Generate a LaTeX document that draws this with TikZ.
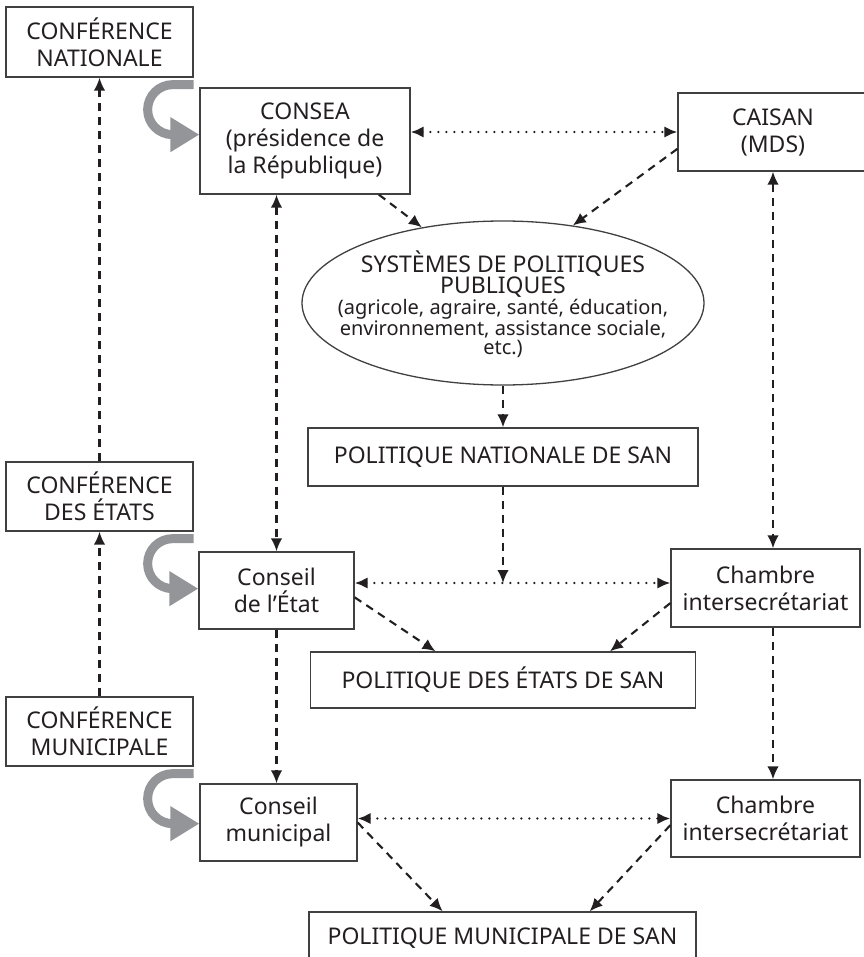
\documentclass[tikz,border=0pt]{standalone}
\usepackage{fontspec}
\setmainfont{Noto Sans}
\usetikzlibrary{arrows.meta,calc,shapes.geometric}
\definecolor{arrowgray}{HTML}{939598}
\definecolor{boxline}{HTML}{404040}
\definecolor{ink}{HTML}{231F20}
\begin{document}
\begin{tikzpicture}[x=1pt,y=1pt,
  >={Latex[length=13pt,width=11.5pt]},
  box/.style={draw=boxline,line width=1.3pt,inner sep=0pt,align=center,text=ink,
    font=\fontsize{23}{27}\selectfont},
  ellnode/.style={draw=boxline,line width=1.3pt,ellipse,inner sep=0pt,
    minimum width=402pt,minimum height=164pt},
  dashline/.style={draw=ink,line width=2.1pt,dash pattern=on 8pt off 6pt},
  dotline/.style={draw=ink,line width=2.6pt,line cap=round,dash pattern=on 0pt off 8pt},
  grayarrow/.style={draw=arrowgray,line width=9pt,-{Triangle[length=29pt,width=33pt,fill=arrowgray]}}
]
\useasboundingbox (0,0) rectangle (863,-957);

% left column
\node[box,minimum width=187pt,minimum height=70pt] (confnat) at (99.5,-42) {CONFÉRENCE\\NATIONALE};
\node[box,minimum width=187pt,minimum height=69pt] (confetats) at (99.5,-496.5) {CONFÉRENCE\\DES ÉTATS};
\node[box,minimum width=187pt,minimum height=69pt] (confmun) at (99.5,-731.5) {CONFÉRENCE\\MUNICIPALE};

% second column
\node[box,minimum width=210pt,minimum height=106pt] (consea) at (305,-141) {CONSEA\\(présidence de\\la République)};
\node[box,minimum width=155pt,minimum height=77pt] (conseiletat) at (276.5,-590.5) {Conseil\\de l’État};
\node[box,minimum width=157pt,minimum height=77pt] (conseilmun) at (278.5,-822.5) {Conseil\\municipal};

% right column
\node[box,minimum width=190pt,minimum height=78pt] (caisan) at (773,-132) {CAISAN\\(MDS)};
\node[box,minimum width=189pt,minimum height=78pt] (chambre1) at (765.5,-588) {Chambre\\intersecrétariat};
\node[box,minimum width=189pt,minimum height=77pt] (chambre2) at (765.5,-818.5) {Chambre\\intersecrétariat};

% central column
\node[ellnode] (ell) at (503,-303) {};
\node[align=center,text=ink,inner sep=0pt] (elltext) at (503,-304)
  {\fontsize{23}{22}\selectfont SYSTÈMES DE POLITIQUES\\
   \fontsize{23}{22}\selectfont PUBLIQUES\\
   \fontsize{20}{20}\selectfont (agricole, agraire, santé, éducation,\\
   \fontsize{20}{20}\selectfont environnement, assistance sociale,\\[1.5pt]
   \fontsize{20}{20}\selectfont etc.)};
\node[box,minimum width=390pt,minimum height=58pt] (polnat) at (503,-457) {POLITIQUE NATIONALE DE SAN};
\node[box,minimum width=385pt,minimum height=56pt] (poletats) at (503,-680) {POLITIQUE DES ÉTATS DE SAN};
\node[box,minimum width=387pt,minimum height=52pt] (polmun) at (502.5,-938) {POLITIQUE MUNICIPALE DE SAN};

\coordinate (m1) at (503,-583);

% dashed vertical connectors
\draw[dashline,->] (confetats.north) -- (confnat.south);
\draw[dashline,->] (confmun.north) -- (confetats.south);
\draw[dashline,<->] (conseiletat.north |- consea.south) -- (conseiletat.north);
\draw[dashline,->] (conseiletat.south) -- (conseiletat.south |- conseilmun.north);
\draw[dashline,<->] (caisan.south) -- (caisan.south |- chambre1.north);
\draw[dashline,->] (caisan.south |- chambre1.south) -- (caisan.south |- chambre2.north);
\draw[dashline,->] (ell.south) -- (polnat.north);
\draw[dashline,->] (polnat.south) -- (m1);

% dashed diagonals
\draw[dashline,->] (consea.-36.4) -- (ell.137);
\draw[dashline,->] (caisan.190.7) -- (ell.48);
\draw[dashline,->] (conseiletat.-5) -- (poletats.157.6);
\draw[dashline,->] (chambre1.189) -- (poletats.15.1);
\draw[dashline,->] (conseilmun.east) -- (polmun.156.7);
\draw[dashline,->] (chambre2.184) -- (polmun.17.9);

% dotted horizontals
\draw[dotline,<->] (consea.east |- caisan.west) -- (caisan.west);
\draw[dotline,<->] (conseiletat.east |- m1) -- (chambre1.west |- m1);
\draw[dotline,<->] (conseilmun.east |- chambre2.west) -- (chambre2.west);

% gray curved arrows
\draw[grayarrow] ($(confnat.south east)+(0,-7)$) -- ++(-21,0)
  arc[start angle=90,end angle=270,radius=25] coordinate (g1) -- (g1 -| consea.west);
\draw[grayarrow] ($(confetats.south east)+(0,-7)$) -- ++(-21,0)
  arc[start angle=90,end angle=270,radius=25] coordinate (g2) -- (g2 -| conseiletat.west);
\draw[grayarrow] ($(confmun.south east)+(0,-7)$) -- ++(-21,0)
  arc[start angle=90,end angle=270,radius=25] coordinate (g3) -- (g3 -| conseilmun.west);
\end{tikzpicture}
\end{document}
